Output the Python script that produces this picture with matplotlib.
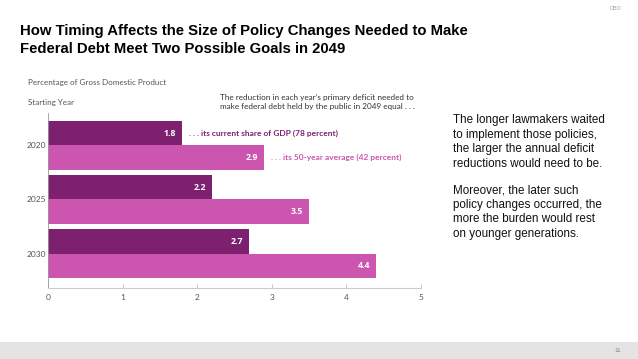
import matplotlib
matplotlib.use("Agg")
import matplotlib.pyplot as plt
import numpy as np

# -----------------------------
# Data
# -----------------------------
START_YEARS = ["2020", "2025", "2030"]
CURRENT_SHARE = [1.8, 2.2, 2.7]      # debt at current share of GDP (78 percent)
FIFTY_YEAR_AVG = [2.9, 3.5, 4.4]     # debt at 50-year average (42 percent)
X_TICKS = [0, 1, 2, 3, 4, 5]

DARK = "#7c206f"
LIGHT = "#cc55b0"
GRAY_TEXT = "#555555"
CHART_FONT = "Lato"
SLIDE_FONT = "Liberation Sans"

fig = plt.figure(figsize=(6.38, 3.59), dpi=100)
fig.patch.set_facecolor("#ffffff")

# Footer strip and slide labels
fig.patches.append(plt.Rectangle((0, 0), 1, 17 / 359, transform=fig.transFigure,
                                 facecolor="#e4e4e4", edgecolor="none", zorder=0))
fig.text(621 / 638, 1 - 8 / 359, "CBO", fontsize=4, color="#999999",
         ha="right", va="center", family=SLIDE_FONT)
fig.text(621 / 638, 1 - 350 / 359, "11", fontsize=4.5, color="#888888",
         ha="right", va="center", family=SLIDE_FONT)

fig.text(20 / 638, 1 - 40 / 359,
         "How Timing Affects the Size of Policy Changes Needed to Make\n"
         "Federal Debt Meet Two Possible Goals in 2049",
         fontsize=10.7, fontweight="bold", color="#000000", family=SLIDE_FONT,
         ha="left", va="center", linespacing=1.3)

fig.text(453 / 638, 1 - 142 / 359,
         "The longer lawmakers waited\nto implement those policies,\n"
         "the larger the annual deficit\nreductions would need to be.",
         fontsize=8.4, color="#111111", family=SLIDE_FONT, ha="left", va="center",
         linespacing=1.27)
fig.text(453 / 638, 1 - 212 / 359,
         "Moreover, the later such\npolicy changes occurred, the\n"
         "more the burden would rest\non younger generations.",
         fontsize=8.4, color="#111111", family=SLIDE_FONT, ha="left", va="center",
         linespacing=1.27)

# Chart headers
fig.text(28 / 638, 1 - 83 / 359, "Percentage of Gross Domestic Product",
         fontsize=5.8, color=GRAY_TEXT, family=CHART_FONT, ha="left", va="center")
fig.text(28 / 638, 1 - 102 / 359, "Starting Year",
         fontsize=5.8, color=GRAY_TEXT, family=CHART_FONT, ha="left", va="center")
fig.text(220 / 638, 1 - 102 / 359,
         "The reduction in each year\u2019s primary deficit needed to\n"
         "make federal debt held by the public in 2049 equal . . .",
         fontsize=5.9, color="#333333", family=CHART_FONT, ha="left", va="center",
         linespacing=1.25)

# -----------------------------
# Bar chart
# -----------------------------
ax = fig.add_axes([48 / 638, 1 - 288 / 359, 373 / 638, 175 / 359])
ax.set_facecolor("none")

groups = np.arange(len(START_YEARS))
bar_h = 0.45
dark_bars = ax.barh(groups - bar_h / 2, CURRENT_SHARE, height=bar_h, color=DARK)
light_bars = ax.barh(groups + bar_h / 2, FIFTY_YEAR_AVG, height=bar_h, color=LIGHT)

for bars, values in ((dark_bars, CURRENT_SHARE), (light_bars, FIFTY_YEAR_AVG)):
    for bar, value in zip(bars, values):
        ax.annotate(f"{value:.1f}", xy=(value, bar.get_y() + bar.get_height() / 2),
                    xytext=(-4.5, 0), textcoords="offset points", ha="right", va="center",
                    color="white", fontsize=6.3, fontweight="bold", family="Open Sans")

ax.annotate(". . . its current share of GDP (78 percent)",
            xy=(CURRENT_SHARE[0], groups[0] - bar_h / 2), xytext=(4.5, 0),
            textcoords="offset points", ha="left", va="center",
            color=DARK, fontsize=6.0, fontweight="bold", family=CHART_FONT)
ax.annotate(". . . its 50-year average (42 percent)",
            xy=(FIFTY_YEAR_AVG[0], groups[0] + bar_h / 2), xytext=(4.5, 0),
            textcoords="offset points", ha="left", va="center",
            color=LIGHT, fontsize=6.0, fontweight="bold", family=CHART_FONT)

ax.set_xlim(0, 5)
ax.set_ylim(2.635, -0.598)
ax.set_xticks(X_TICKS)
ax.set_xticklabels([str(t) for t in X_TICKS], family=CHART_FONT, fontsize=6,
                   color=GRAY_TEXT)
ax.set_yticks(groups)
ax.set_yticklabels(START_YEARS, family=CHART_FONT, fontsize=6, color=GRAY_TEXT)
ax.tick_params(axis="x", direction="in", length=3, width=0.6, color="#bbbbbb", pad=4)
ax.tick_params(axis="y", length=0, pad=1)

for side in ("top", "right"):
    ax.spines[side].set_visible(False)
ax.spines["left"].set_color("#999999")
ax.spines["left"].set_linewidth(0.6)
ax.spines["bottom"].set_color("#cccccc")
ax.spines["bottom"].set_linewidth(0.8)

fig.savefig("out.png", dpi=100, facecolor=fig.get_facecolor())
